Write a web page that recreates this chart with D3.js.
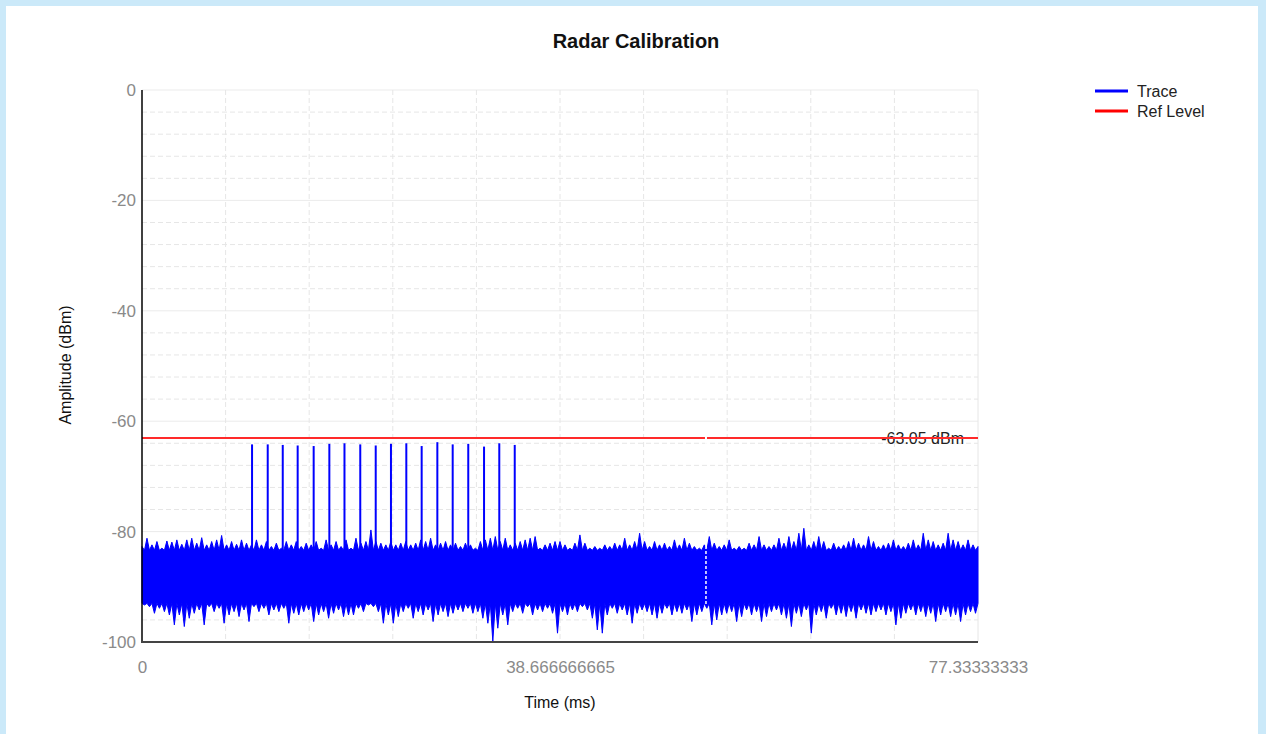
<!DOCTYPE html>
<html>
<head>
<meta charset="utf-8">
<script src="https://cdn.jsdelivr.net/npm/d3@7"></script>
<style>
  body { margin: 0; background: #cbe9f9; }
  text { font-family: "Liberation Sans", Arial, sans-serif; }
</style>
</head>
<body>
<svg id="chart" width="1266" height="734"></svg>
<script>
// chart values
const xMax = 77.33333333;
const xTickValues = [0, 38.666666665, 77.33333333];
const xTickLabels = ['0', '38.666666665', '77.33333333'];
const yTicks = [0, -20, -40, -60, -80, -100];
const legendLabels = ['Trace', 'Ref Level'];

// upper / lower peaks of the noise trace, evenly spaced over 0..xMax
const traceUpper = [
  -82.7, -81.2, -82.4, -81.8, -83.0, -81.7, -81.9, -81.5, -82.3, -81.5, -81.2, -82.1, -81.1, -82.4,
  -81.8, -81.5, -80.7, -82.4, -81.8, -82.3, -81.5, -82.1, -82.4, -81.5, -82.4, -81.8, -82.7, -82.1,
  -83.0, -81.8, -82.4, -81.8, -82.7, -82.1, -82.4, -81.8, -83.0, -81.5, -82.4, -81.8, -82.7, -81.5,
  -83.0, -81.2, -82.1, -81.8, -79.7, -81.8, -82.1, -82.4, -81.8, -82.4, -82.1, -81.8, -82.4, -82.1,
  -81.5, -81.8, -81.2, -82.4, -82.1, -81.8, -82.4, -82.1, -82.7, -82.1, -82.4, -83.0, -81.8, -81.5,
  -81.2, -80.9, -81.8, -81.2, -82.4, -82.1, -81.8, -81.5, -81.2, -80.9, -83.0, -82.4, -82.1, -81.8,
  -81.8, -82.4, -83.0, -82.1, -80.6, -82.1, -83.0, -82.7, -83.0, -82.4, -82.7, -82.1, -82.4, -81.2,
  -82.4, -81.8, -80.3, -81.8, -82.7, -81.8, -82.4, -82.1, -82.7, -81.5, -82.4, -81.2, -82.1, -82.7,
  -83.0, -82.4, -80.9, -82.1, -82.7, -82.4, -81.5, -83.0, -82.7, -83.0, -82.1, -82.4, -80.9, -82.4,
  -82.7, -82.4, -81.2, -82.1, -80.9, -81.8, -80.3, -79.4, -82.4, -81.8, -80.9, -81.8, -83.0, -82.1,
  -82.7, -82.4, -81.8, -81.2, -82.1, -82.4, -80.9, -81.8, -82.7, -82.4, -82.1, -81.5, -82.4, -82.7,
  -82.1, -81.5, -82.4, -80.3, -81.5, -81.8, -82.4, -82.1, -80.3, -81.5, -81.8, -82.4, -81.5, -82.4,
  -82.7
];
const traceLower = [
  -93.3, -93.6, -94.8, -93.9, -94.5, -95.1, -96.9, -95.1, -97.2, -95.7, -94.8, -94.2, -96.9, -93.6,
  -94.5, -93.9, -96.6, -95.1, -94.5, -95.4, -94.2, -96.3, -93.6, -94.5, -93.9, -95.1, -94.2, -94.5,
  -93.9, -96.6, -94.8, -95.1, -94.5, -94.2, -96.3, -95.1, -94.5, -95.7, -94.8, -94.2, -95.4, -95.1,
  -95.1, -93.9, -94.5, -93.3, -93.6, -94.5, -96.6, -95.1, -96.6, -95.4, -94.5, -93.9, -95.7, -94.5,
  -95.1, -94.2, -96.3, -95.1, -94.5, -95.4, -94.8, -94.2, -94.5, -93.9, -94.8, -94.5, -95.7, -96.6,
  -99.9, -97.5, -95.1, -96.9, -94.5, -93.9, -94.8, -93.6, -95.1, -94.2, -94.5, -93.9, -94.8, -98.4,
  -94.5, -95.1, -94.2, -94.5, -93.6, -94.2, -95.7, -97.8, -98.4, -95.1, -93.9, -94.8, -94.2, -95.1,
  -96.6, -94.8, -94.2, -94.5, -95.1, -95.7, -94.8, -93.9, -95.1, -94.5, -94.8, -94.2, -96.3, -95.1,
  -94.5, -93.9, -96.9, -96.0, -95.1, -94.8, -94.5, -96.3, -95.4, -94.2, -95.1, -94.5, -96.3, -95.4,
  -94.5, -94.2, -95.1, -95.7, -97.2, -94.8, -95.4, -94.2, -98.4, -95.1, -94.5, -95.7, -93.9, -95.1,
  -94.8, -95.4, -94.5, -95.7, -94.2, -94.8, -95.1, -94.5, -94.2, -95.1, -94.5, -96.9, -95.7, -94.8,
  -94.2, -95.1, -94.5, -95.4, -94.8, -96.3, -95.1, -94.5, -95.4, -95.1, -96.3, -95.1, -94.5, -94.8,
  -94.2
];
// solid body of the noise between the peaks
const noiseCoreTop = -83.4;
const noiseCoreBottom = -93.0;

// radar pulses sticking out of the noise
const pulseTimes = [10.18, 11.63, 13.02, 14.40, 15.88, 17.33, 18.73, 20.19, 21.62,
  23.03, 24.45, 25.87, 27.32, 28.74, 30.18, 31.64, 33.05, 34.48];
const pulsePeaks = [-64.2, -64.2, -64.3, -64.4, -64.5, -64.1, -64.0, -64.2, -64.4,
  -64.1, -64.0, -64.5, -63.8, -64.2, -64.1, -64.6, -64.0, -64.3];
const pulseBase = -84;

const refLevel = -63.05;
const cursorTime = 52.17;

const width = 1266, height = 734;
const margin = { top: 90, right: 288, bottom: 92, left: 142 };

const svg = d3.select('#chart');

svg.append('rect')
  .attr('x', 6).attr('y', 6)
  .attr('width', 1252).attr('height', 740)
  .attr('fill', '#fff');

const x = d3.scaleLinear()
  .domain([0, xMax])
  .range([margin.left, width - margin.right]);
const y = d3.scaleLinear()
  .domain([0, -100])
  .range([margin.top, height - margin.bottom]);

// grid
const grid = svg.append('g');
grid.selectAll('.minor')
  .data(d3.range(-4, -100, -4).filter(v => v % 20 !== 0))
  .join('line')
  .attr('x1', x(0)).attr('x2', x(xMax))
  .attr('y1', d => y(d)).attr('y2', d => y(d))
  .attr('stroke', '#e6e6e6').attr('stroke-dasharray', '5,3');
grid.selectAll('.major')
  .data(yTicks.slice(0, -1))
  .join('line')
  .attr('x1', x(0)).attr('x2', x(xMax))
  .attr('y1', d => y(d)).attr('y2', d => y(d))
  .attr('stroke', '#ebebeb');
grid.selectAll('.vert')
  .data(d3.range(1, 11).map(i => i * xMax / 10))
  .join('line')
  .attr('x1', d => x(d)).attr('x2', d => x(d))
  .attr('y1', y(0)).attr('y2', y(-100))
  .attr('stroke', '#e6e6e6')
  .attr('stroke-dasharray', (d, i) => i === 9 ? null : '5,3');

// trace: upper peaks on even half-steps, lower peaks on odd ones
const step = xMax / (traceUpper.length - 1);
const halfSteps = d3.range(0, traceUpper.length * 2 - 1);
const area = d3.area()
  .x(j => x(j * step / 2))
  .y1(j => y(j % 2 === 0 ? traceUpper[j / 2] : noiseCoreTop))
  .y0(j => y(j % 2 === 1 ? traceLower[(j - 1) / 2] : noiseCoreBottom));

svg.append('path')
  .datum(halfSteps)
  .attr('d', area)
  .attr('fill', '#0000ff')
  .attr('stroke', '#0000ff')
  .attr('stroke-width', 1)
  .attr('stroke-linejoin', 'round');

svg.selectAll('.pulse')
  .data(pulseTimes)
  .join('line')
  .attr('x1', d => x(d)).attr('x2', d => x(d))
  .attr('y1', y(pulseBase))
  .attr('y2', (d, i) => y(pulsePeaks[i]))
  .attr('stroke', '#0000ff')
  .attr('stroke-width', 2);

// cursor marker
svg.append('line')
  .attr('x1', x(cursorTime)).attr('x2', x(cursorTime))
  .attr('y1', y(refLevel) - 2).attr('y2', y(-93.2))
  .attr('stroke', '#fff')
  .attr('stroke-width', 1.5)
  .attr('stroke-dasharray', '3,2');

// reference level
svg.append('text')
  .attr('x', x(xMax) - 14)
  .attr('y', y(refLevel))
  .attr('dy', '0.35em')
  .attr('text-anchor', 'end')
  .attr('font-size', 16)
  .attr('fill', '#222')
  .text(refLevel.toFixed(2) + ' dBm');

const refLine = svg.append('g');
refLine.append('line')
  .attr('x1', x(0)).attr('x2', x(cursorTime) - 1)
  .attr('y1', y(refLevel)).attr('y2', y(refLevel))
  .attr('stroke', '#ff2a2a').attr('stroke-width', 2);
refLine.append('line')
  .attr('x1', x(cursorTime) + 1).attr('x2', x(xMax))
  .attr('y1', y(refLevel)).attr('y2', y(refLevel))
  .attr('stroke', '#ff2a2a').attr('stroke-width', 2);

// axes
const yAxis = svg.append('g')
  .attr('transform', `translate(${margin.left},0)`)
  .call(d3.axisLeft(y).tickValues(yTicks).tickFormat(d => String(d)).tickSize(0).tickPadding(6));
yAxis.select('.domain').remove();
yAxis.selectAll('text')
  .attr('font-size', 17)
  .attr('fill', '#8a8a8a');

const xAxis = svg.append('g')
  .attr('transform', `translate(0,${y(-100)})`)
  .call(d3.axisBottom(x)
    .tickValues(xTickValues)
    .tickFormat((d, i) => xTickLabels[i])
    .tickSize(0).tickPadding(19));
xAxis.select('.domain').remove();
xAxis.selectAll('text')
  .attr('font-size', 17)
  .attr('fill', '#8a8a8a');

svg.append('line')
  .attr('x1', x(0)).attr('x2', x(0))
  .attr('y1', y(0)).attr('y2', y(-100))
  .attr('stroke', '#000').attr('stroke-width', 1.5);
svg.append('line')
  .attr('x1', x(0) - 1).attr('x2', x(xMax))
  .attr('y1', y(-100)).attr('y2', y(-100))
  .attr('stroke', '#444').attr('stroke-width', 2);

// titles
svg.append('text')
  .attr('x', 636).attr('y', 41)
  .attr('dy', '0.35em')
  .attr('text-anchor', 'middle')
  .attr('font-size', 20)
  .attr('font-weight', 'bold')
  .attr('fill', '#111')
  .text('Radar Calibration');

svg.append('text')
  .attr('transform', `translate(65,${(y(0) + y(-100)) / 2 - 1}) rotate(-90)`)
  .attr('dy', '0.35em')
  .attr('text-anchor', 'middle')
  .attr('font-size', 16)
  .attr('fill', '#111')
  .text('Amplitude (dBm)');

svg.append('text')
  .attr('x', x(xMax / 2)).attr('y', 702)
  .attr('dy', '0.35em')
  .attr('text-anchor', 'middle')
  .attr('font-size', 16)
  .attr('fill', '#111')
  .text('Time (ms)');

// legend
const legendColors = ['#0000ff', '#ff0000'];
const legend = svg.append('g')
  .selectAll('g')
  .data(legendLabels)
  .join('g')
  .attr('transform', (d, i) => `translate(1095,${91 + i * 20})`);
legend.append('line')
  .attr('x1', 0).attr('x2', 33)
  .attr('stroke', (d, i) => legendColors[i])
  .attr('stroke-width', 3);
legend.append('text')
  .attr('x', 42)
  .attr('dy', '0.35em')
  .attr('font-size', 16)
  .attr('fill', '#222')
  .text(d => d);
</script>
</body>
</html>
